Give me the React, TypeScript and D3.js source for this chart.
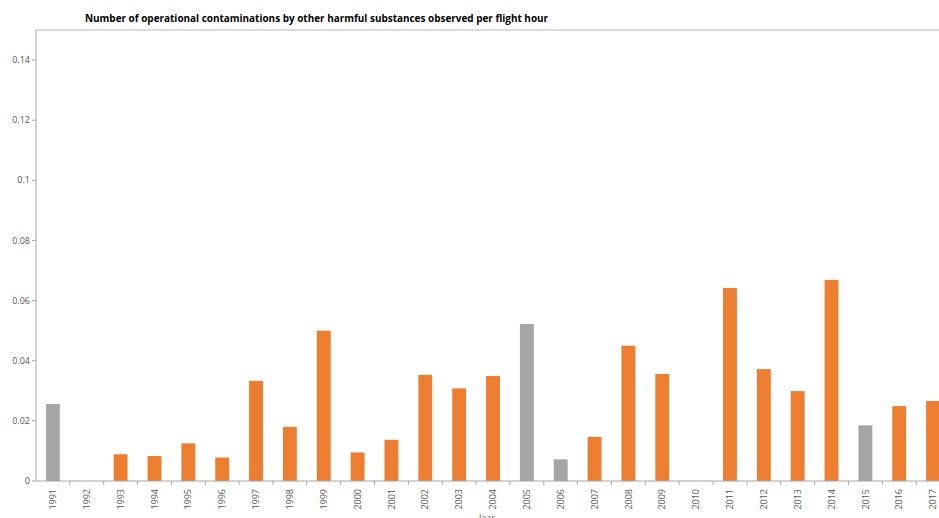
import React from "react";
import * as d3 from "d3";

const years = [
  "1991","1992","1993","1994","1995","1996","1997","1998","1999","2000",
  "2001","2002","2003","2004","2005","2006","2007","2008","2009","2010",
  "2011","2012","2013","2014","2015","2016","2017",
];
const values = [
  0.0256, 0, 0.0089, 0.0083, 0.0125, 0.0078, 0.0333, 0.018, 0.05, 0.0095,
  0.0137, 0.0353, 0.0308, 0.0349, 0.0522, 0.0072, 0.0147, 0.045, 0.0356, 0,
  0.0642, 0.0372, 0.0299, 0.0669, 0.0185, 0.0249, 0.0266,
];
const greyYears = ["1991", "2005", "2006", "2015"];
const yTicks = [0, 0.02, 0.04, 0.06, 0.08, 0.1, 0.12, 0.14];
const yTickLabels = ["0", "0.02", "0.04", "0.06", "0.08", "0.1", "0.12", "0.14"];
const title = "Number of operational contaminations by other harmful substances observed per flight hour";
const xTitle = "Jaar";

const W = 939;
const H = 518;
const left = 36;
const right = 950;
const top = 30;
const bottom = 481;

export default function App() {
  const x = d3
    .scaleBand<string>()
    .domain(years)
    .range([left, right])
    .paddingInner(0.59)
    .paddingOuter(0.295);
  const y = d3.scaleLinear().domain([0, 0.15]).range([bottom, top]);
  const step = x.step();
  const font = "'Open Sans', 'Liberation Sans', sans-serif";

  return (
    <svg
      width={W}
      height={H}
      style={{ position: "absolute", left: 0, top: 0, background: "#fff" }}
      fontFamily={font}
    >
      <rect x={0} y={0} width={W} height={H} fill="#fff" />
      <line x1={left} x2={W} y1={top} y2={top} stroke="#d0d0d0" strokeWidth={1.5} />
      <text x={85} y={22} fontSize={9.95} fontWeight="bold" fill="#000">
        {title}
      </text>
      <line x1={left} x2={left} y1={top} y2={bottom} stroke="#a6a6a6" strokeWidth={1} />
      {yTicks.map((t, i) => (
        <g key={t}>
          <line x1={left - 4} x2={left} y1={y(t)} y2={y(t)} stroke="#a6a6a6" />
          <text
            x={30}
            y={y(t)}
            dy="0.35em"
            textAnchor="end"
            fontSize={9}
            fill="#595959"
          >
            {yTickLabels[i]}
          </text>
        </g>
      ))}
      {years.map((yr, i) => (
        <rect
          key={yr}
          x={x(yr)}
          y={y(values[i])}
          width={x.bandwidth()}
          height={bottom - y(values[i])}
          fill={greyYears.includes(yr) ? "#a5a5a5" : "#ed7d31"}
        />
      ))}
      <line x1={left} x2={W} y1={bottom} y2={bottom} stroke="#a6a6a6" strokeWidth={1} />
      {years.map((yr, i) => (
        <line
          key={"t" + yr}
          x1={left + (i + 1) * step}
          x2={left + (i + 1) * step}
          y1={bottom}
          y2={bottom + 4}
          stroke="#a6a6a6"
        />
      ))}
      {years.map((yr) => {
        const cx = (x(yr) as number) + x.bandwidth() / 2;
        return (
          <text
            key={"l" + yr}
            transform={`translate(${cx},${489}) rotate(-90)`}
            textAnchor="end"
            dy="0.35em"
            fontSize={9}
            fill="#595959"
          >
            {yr}
          </text>
        );
      })}
      <text x={487} y={521} textAnchor="middle" fontSize={9} fill="#595959">
        {xTitle}
      </text>
    </svg>
  );
}
